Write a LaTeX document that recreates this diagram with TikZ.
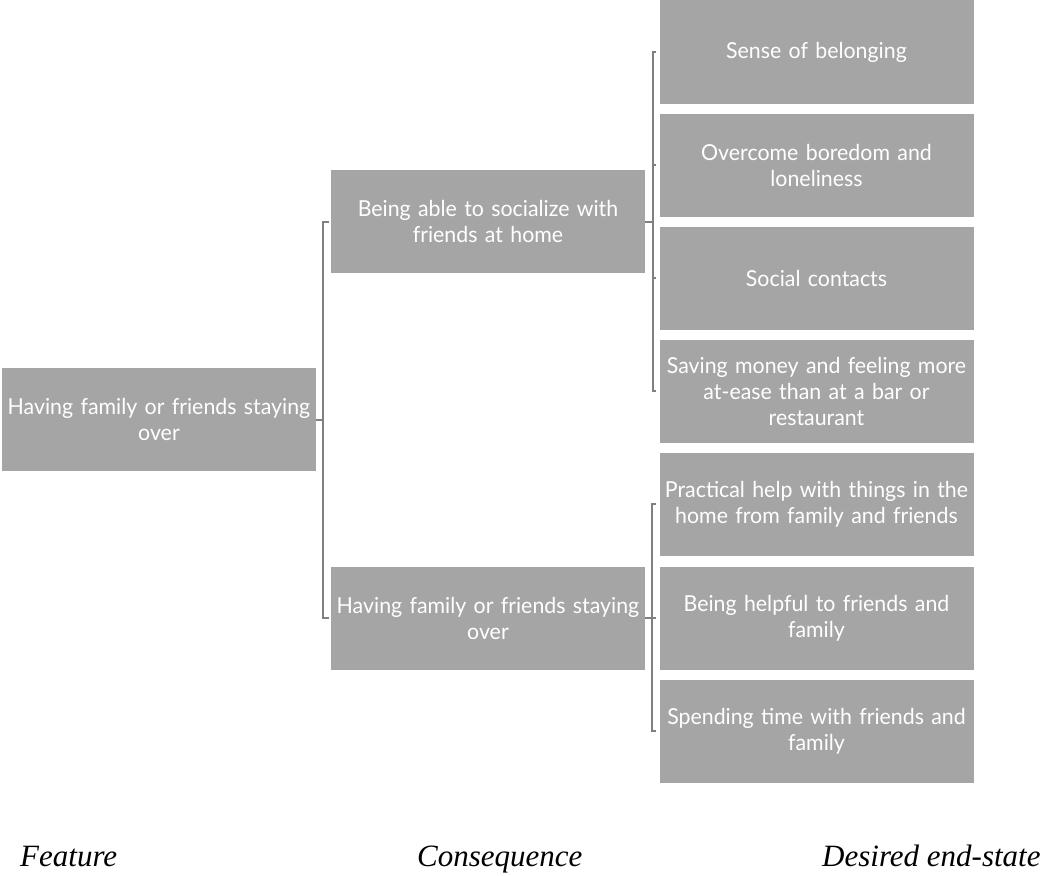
\documentclass[tikz,border=0pt]{standalone}
\usepackage{fontspec}
\setmainfont{Liberation Serif}
\newfontfamily\boxfont[FakeStretch=0.97]{Lato}
\definecolor{boxgray}{HTML}{A5A5A5}
\definecolor{linegray}{HTML}{808080}
\begin{document}
\begin{tikzpicture}[x=1pt,y=-1pt,
  cell/.style={fill=boxgray, text=white, minimum width=314pt, minimum height=103pt,
    text width=313pt, align=center, inner sep=0pt,
    font=\boxfont\fontsize{22}{26}\selectfont},
  bracket/.style={draw=linegray, line width=2pt},
  caption/.style={anchor=base west, inner sep=0pt, font=\itshape\fontsize{31}{36}\selectfont}]
\useasboundingbox (0,0) rectangle (1046,875);

% feature
\node[cell] (f) at (159,419.5) {Having family or friends staying\\over};

% consequences
\node[cell] (c1) at (488,221.5) {Being able to socialize with\\friends at home};
\node[cell] (c2) at (488,618) {Having family or friends staying\\over};

% desired end-states
\node[cell] (d1) at (816.5,52)  {Sense of belonging};
\node[cell] (d2) at (816.5,165) {Overcome boredom and\\loneliness};
\node[cell] (d3) at (816.5,278) {Social contacts};
\node[cell] (d4) at (816.5,391) {Saving money and feeling more\\at-ease than at a bar or\\restaurant};
\node[cell] (d5) at (816.5,504) {Practical help with things in the\\home from family and friends};
\node[cell] (d6) at (816.5,618) {Being helpful to friends and\\family};
\node[cell] (d7) at (816.5,731) {Spending time with friends and\\family};

% brackets
\draw[bracket] (f.east) -- ++(7,0) |- ([xshift=-2pt]c1.west);
\draw[bracket] (f.east) -- ++(7,0) |- ([xshift=-2pt]c2.west);
\foreach \d in {d1,d2,d3,d4}
  \draw[bracket] (c1.east) -- ++(8,0) |- ([xshift=-3pt]\d.west);
\foreach \d in {d5,d6,d7}
  \draw[bracket] (c2.east) -- ++(7,0) |- ([xshift=-3pt]\d.west);

% column captions
\node[caption] (capf) at (20,866) {Feature};
\node[caption] (capc) at (417,866) {Consequence};
\node[caption] (capd) at (822,866) {Desired end-state};
\end{tikzpicture}
\end{document}
